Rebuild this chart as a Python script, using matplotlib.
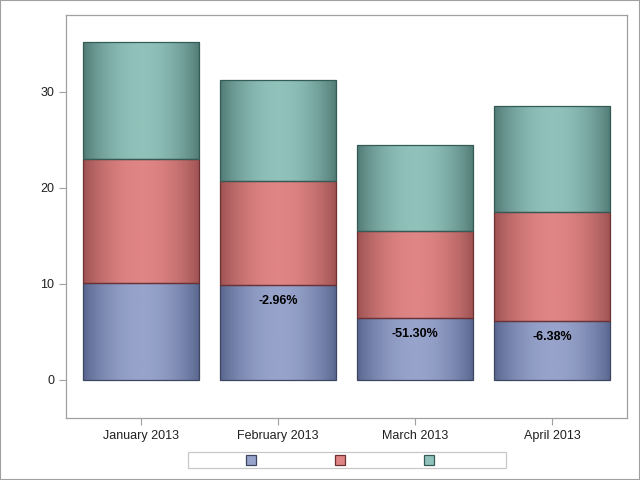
import numpy as np
import matplotlib.pyplot as plt
from matplotlib.colors import LinearSegmentedColormap
from matplotlib.patches import Rectangle

plt.rcParams['font.family'] = ['Liberation Sans', 'DejaVu Sans']

months = ['January 2013', 'February 2013', 'March 2013', 'April 2013']
seg1 = [10.1, 9.9, 6.45, 6.15]
seg2 = [12.9, 10.8, 9.05, 11.35]
seg3 = [12.2, 10.55, 9.0, 11.0]
pct_labels = ['', '-2.96%', '-51.30%', '-6.38%']

# (edge colour, centre colour, outline)
styles = [('#56638c', '#97a3cb', '#3c4660'),
          ('#9c5050', '#e08585', '#6e3030'),
          ('#4f7873', '#90c2bb', '#335c57')]

fig = plt.figure(figsize=(6.4, 4.8), dpi=100)
ax = fig.add_axes([66 / 640, 62 / 480, 561 / 640, 403 / 480])

width = 0.847
x = np.arange(len(months))
t = np.linspace(0, 1, 200)
grad = (np.sin(np.pi * t) ** 0.8)[None, :]

bottom = np.zeros(len(months))
for vals, (edge, mid, line) in zip([seg1, seg2, seg3], styles):
    cmap = LinearSegmentedColormap.from_list('g', [edge, mid])
    bars = ax.bar(x, vals, width, bottom=bottom, color='none',
                  edgecolor=line, linewidth=0.9, zorder=3)
    for b in bars:
        bx, by = b.get_x(), b.get_y()
        im = ax.imshow(grad, cmap=cmap, aspect='auto', zorder=2,
                       extent=[bx, bx + b.get_width(), by, by + b.get_height()])
        im.set_clip_path(Rectangle((bx, by), b.get_width(), b.get_height(),
                                   transform=ax.transData))
    bottom += np.array(vals)

for i, lab in enumerate(pct_labels):
    if lab:
        ax.text(x[i], seg1[i] - 1.05, lab, ha='center', va='top',
                fontsize=9, fontweight='bold', color='black', zorder=4)

ax.set_xlim(-0.547, 3.547)
ax.set_ylim(-3.96, 38.0)
ax.set_xticks(x)
ax.set_xticklabels(months)
ax.set_yticks([0, 10, 20, 30])
for s in ax.spines.values():
    s.set_color('#a0a0a0')
    s.set_linewidth(0.9)
ax.tick_params(colors='#a0a0a0', labelcolor='#202020', labelsize=9, length=5)

# legend box with empty labels, drawn in figure pixels
W, H = 640, 480
fig.patches.append(Rectangle((188 / W, 1 - 468 / H), 318 / W, 16 / H, transform=fig.transFigure,
                             facecolor='white', edgecolor='#c8c8c8', linewidth=0.9))
for cx, (_, mid, line) in zip([251, 340, 429], styles):
    fig.patches.append(Rectangle(((cx - 5) / W, 1 - 465 / H), 10 / W, 10 / H,
                                 transform=fig.transFigure, facecolor=mid,
                                 edgecolor=line, linewidth=0.9))

fig.patches.append(Rectangle((0, 0), 1, 1, transform=fig.transFigure, fill=False,
                             edgecolor='#a0a0a0', linewidth=1.5))

fig.savefig('out.png', dpi=100)
